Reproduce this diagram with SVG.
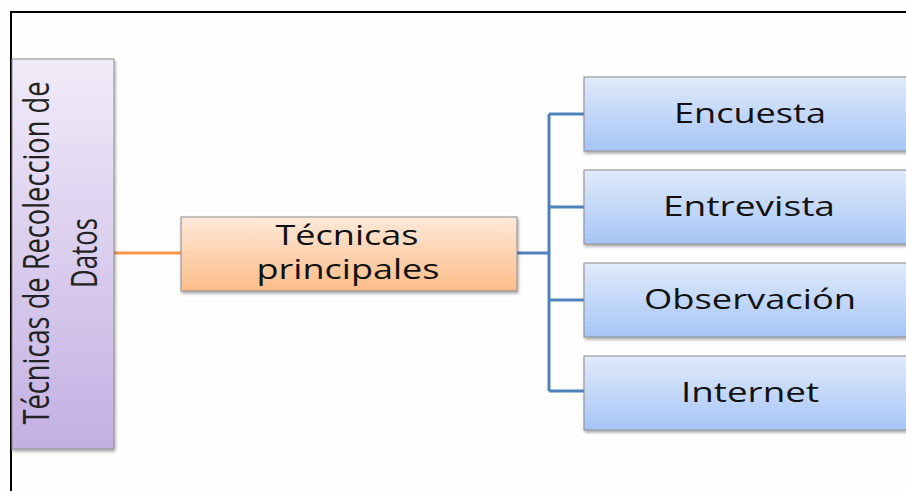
<svg xmlns="http://www.w3.org/2000/svg" width="906" height="491" viewBox="0 0 906 491">
<defs>
<linearGradient id="gP" x1="0" y1="0" x2="0" y2="1"><stop offset="0" stop-color="#f1ebf9"/><stop offset="1" stop-color="#c3b0e3"/></linearGradient>
<linearGradient id="gO" x1="0" y1="0" x2="0" y2="1"><stop offset="0" stop-color="#fee9da"/><stop offset="1" stop-color="#fbbd88"/></linearGradient>
<linearGradient id="gB" x1="0" y1="0" x2="0" y2="1"><stop offset="0" stop-color="#e0eafa"/><stop offset="1" stop-color="#a6c5f6"/></linearGradient>
<filter id="sh" x="-5%" y="-5%" width="110%" height="115%"><feDropShadow dx="1" dy="2" stdDeviation="1.5" flood-color="#000" flood-opacity="0.35"/></filter>
</defs>
<style>
.box{stroke:#8c8c8c;stroke-width:1;filter:url(#sh)}
.t{font-family:"Open Sans","Liberation Sans",sans-serif;font-size:27px;fill:#111;text-anchor:middle}
.v{font-family:"Open Sans","Liberation Sans",sans-serif;font-size:37px;fill:#222;text-anchor:middle}
.c{fill:none;stroke-width:3}
</style>
<rect width="906" height="491" fill="#fefefe"/>
<path d="M11 491 V12 H906" fill="none" stroke="#000" stroke-width="2"/>
<g id="connectors">
<path class="c" d="M114 253 H181" stroke="#f79646"/>
<path class="c" d="M517 253 H549 M549 114 V391 M549 114 H584 M549 207 H584 M549 300 H584 M549 391 H584" stroke="#4f81bd"/>
</g>
<g id="root">
<rect class="box" x="12" y="59" width="102" height="390" fill="url(#gP)"/>
<text class="v" transform="translate(49,253) rotate(-90)" textLength="343" lengthAdjust="spacingAndGlyphs">Técnicas de Recoleccion de</text>
<text class="v" transform="translate(97,253) rotate(-90)" textLength="70" lengthAdjust="spacingAndGlyphs">Datos</text>
</g>
<g id="principales">
<rect class="box" x="181" y="217" width="336" height="74" fill="url(#gO)"/>
<text class="t" x="347" y="245" textLength="143" lengthAdjust="spacingAndGlyphs">Técnicas</text>
<text class="t" x="348" y="279" textLength="183" lengthAdjust="spacingAndGlyphs">principales</text>
</g>
<g id="encuesta">
<rect class="box" x="584" y="77" width="330" height="74" fill="url(#gB)"/>
<text class="t" x="750" y="123" textLength="152" lengthAdjust="spacingAndGlyphs">Encuesta</text>
</g>
<g id="entrevista">
<rect class="box" x="584" y="170" width="330" height="74" fill="url(#gB)"/>
<text class="t" x="749" y="216" textLength="172" lengthAdjust="spacingAndGlyphs">Entrevista</text>
</g>
<g id="observacion">
<rect class="box" x="584" y="263" width="330" height="74" fill="url(#gB)"/>
<text class="t" x="750" y="309" textLength="212" lengthAdjust="spacingAndGlyphs">Observación</text>
</g>
<g id="internet">
<rect class="box" x="584" y="356" width="330" height="74" fill="url(#gB)"/>
<text class="t" x="750" y="402" textLength="138" lengthAdjust="spacingAndGlyphs">Internet</text>
</g>
</svg>
